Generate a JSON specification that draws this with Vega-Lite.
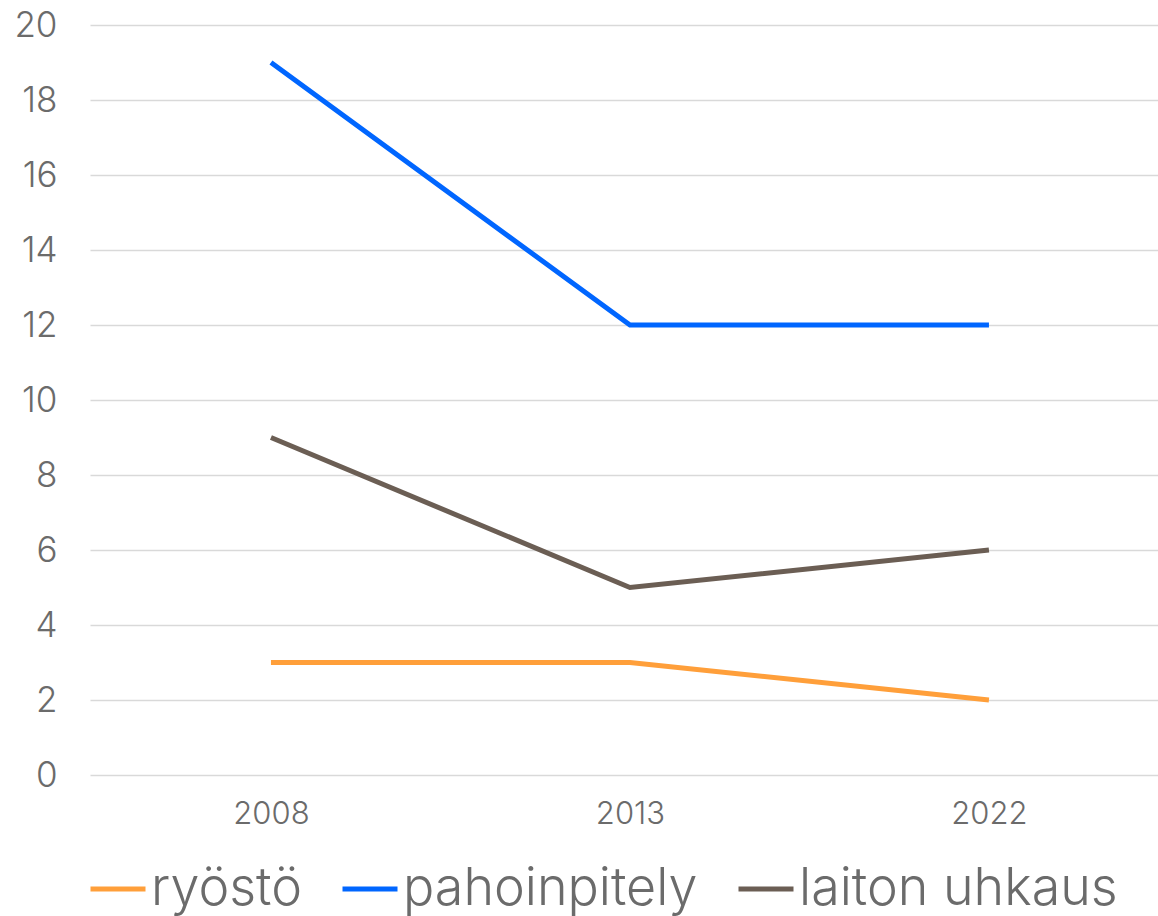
{
  "$schema": "https://vega.github.io/schema/vega-lite/v6.json",
  "width": 1068,
  "height": 750,
  "autosize": "none",
  "padding": {"left": 90, "top": 25, "right": 0, "bottom": 141},
  "background": "white",
  "config": {
    "view": {"stroke": null},
    "font": "Inter"
  },
  "data": {
    "values": [
      {"year": "2008", "series": "ryöstö", "value": 3},
      {"year": "2013", "series": "ryöstö", "value": 3},
      {"year": "2022", "series": "ryöstö", "value": 2},
      {"year": "2008", "series": "pahoinpitely", "value": 19},
      {"year": "2013", "series": "pahoinpitely", "value": 12},
      {"year": "2022", "series": "pahoinpitely", "value": 12},
      {"year": "2008", "series": "laiton uhkaus", "value": 9},
      {"year": "2013", "series": "laiton uhkaus", "value": 5},
      {"year": "2022", "series": "laiton uhkaus", "value": 6}
    ]
  },
  "mark": {"type": "line", "strokeWidth": 5, "strokeCap": "butt"},
  "encoding": {
    "x": {
      "field": "year",
      "type": "ordinal",
      "scale": {"type": "point", "padding": 0.4875, "align": 0.517},
      "axis": {
        "title": null,
        "domain": false,
        "ticks": false,
        "grid": false,
        "labelAngle": 0,
        "labelFontSize": 31,
        "labelFontWeight": 300,
        "labelColor": "#6b6b6b",
        "labelPadding": 24
      }
    },
    "y": {
      "field": "value",
      "type": "quantitative",
      "scale": {"domain": [0, 20], "nice": false},
      "axis": {
        "title": null,
        "values": [0, 2, 4, 6, 8, 10, 12, 14, 16, 18, 20],
        "domain": false,
        "ticks": false,
        "gridColor": "#d9d9d9",
        "gridWidth": 1.5,
        "labelFontSize": 35,
        "labelFontWeight": 300,
        "labelColor": "#6b6b6b",
        "labelPadding": 33
      }
    },
    "color": {
      "field": "series",
      "type": "nominal",
      "scale": {
        "domain": ["ryöstö", "pahoinpitely", "laiton uhkaus"],
        "range": ["#FF9F3A", "#0066FF", "#6B5E54"]
      },
      "legend": {
        "title": null,
        "orient": "none",
        "direction": "horizontal",
        "legendX": -2,
        "legendY": 834,
        "symbolType": "stroke",
        "symbolSize": 3025,
        "symbolStrokeWidth": 5,
        "labelFontSize": 52,
        "labelFontWeight": 300,
        "labelColor": "#6b6b6b",
        "labelOffset": 3,
        "columnPadding": 30,
        "labelLimit": 0
      }
    }
  }
}
